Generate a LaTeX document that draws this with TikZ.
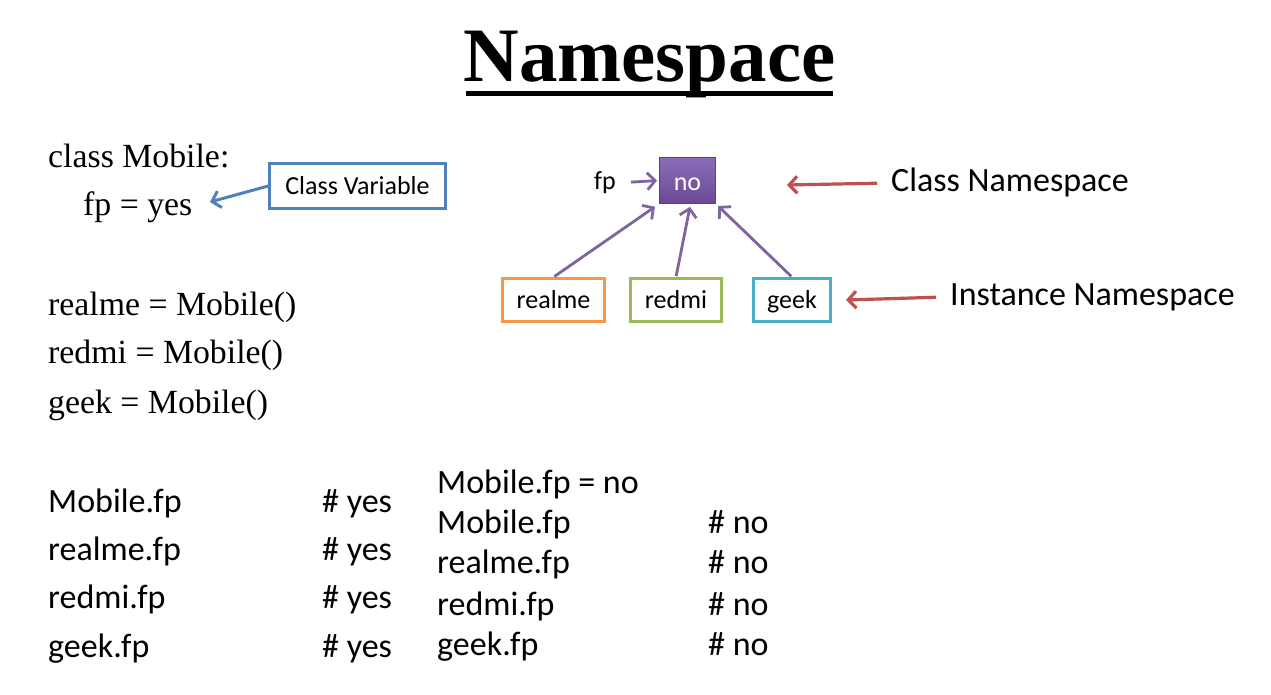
\documentclass[tikz,border=0pt]{standalone}
\usepackage{fontspec}
\setmainfont{Liberation Serif}
\newfontfamily\calfont{Carlito}
\usetikzlibrary{arrows.meta}
\definecolor{violetline}{HTML}{8064A2}
\definecolor{violettop}{HTML}{8D6DBA}
\definecolor{violetbot}{HTML}{6A4896}
\definecolor{violetedge}{HTML}{5C3F85}
\definecolor{orangeline}{HTML}{F79646}
\definecolor{greenline}{HTML}{9BBB59}
\definecolor{cyanline}{HTML}{4BACC6}
\definecolor{blueline}{HTML}{4F81BD}
\definecolor{redline}{HTML}{C0504D}
\begin{document}
\begin{tikzpicture}[x=1pt,y=-1pt,
  serif/.style={anchor=base west, inner sep=0pt, font=\fontsize{33.8}{33.8}\selectfont},
  code/.style={anchor=base west, inner sep=0pt, font=\calfont\fontsize{34}{34}\selectfont},
  label/.style={anchor=base west, inner sep=0pt, font=\calfont\fontsize{34}{34}\selectfont},
  small/.style={inner sep=0pt, font=\calfont\fontsize{26}{26}\selectfont},
  inst/.style={draw, line width=2.8pt, fill=white, minimum height=43pt, inner sep=0pt,
               text height=17pt, text depth=0pt,
               font=\calfont\fontsize{26}{26}\selectfont},
  link/.style={line width=2.8pt, -{Straight Barb[length=8pt,width=17pt]}},
]
\useasboundingbox[fill=white] (0,0) rectangle (1271,695);

% title
\node[anchor=base, inner sep=0pt, font=\bfseries\fontsize{77}{77}\selectfont] (title) at (649.5,82) {Namespace};
\fill (466,91) rectangle (833,96);

% class code
\node[serif] (cls) at (48,168) {class Mobile:};
\node[serif] (fpyes) at (83,215) {fp = yes};
\node[serif] (l1) at (48,315) {realme = Mobile()};
\node[serif] (l2) at (48,363) {redmi = Mobile()};
\node[serif] (l3) at (48,413) {geek = Mobile()};

% class variable box
\node[draw=blueline, line width=2.5pt, minimum width=176pt, minimum height=45pt, inner sep=0pt,
      text height=18pt, text depth=0pt,
      font=\calfont\fontsize{26}{26}\selectfont] (cv) at (357.5,186) {Class Variable};
\draw[link, blueline, line width=3pt, shorten >=18pt] (cv.west) -- (fpyes.east);

% left results
\node[code] (a1) at (48,512) {Mobile.fp};
\node[code] (a2) at (48,560) {realme.fp};
\node[code] (a3) at (48,608) {redmi.fp};
\node[code] (a4) at (48,657) {geek.fp};
\node[code] (b1) at (322,512) {\# yes};
\node[code] (b2) at (322,560) {\# yes};
\node[code] (b3) at (322,608) {\# yes};
\node[code] (b4) at (322,657) {\# yes};

% right results
\node[code] (c0) at (437,493) {Mobile.fp = no};
\node[code] (c1) at (437,533) {Mobile.fp};
\node[code] (c2) at (437,573) {realme.fp};
\node[code] (c3) at (437,615) {redmi.fp};
\node[code] (c4) at (437,655) {geek.fp};
\node[code] (d1) at (708,533) {\# no};
\node[code] (d2) at (708,573) {\# no};
\node[code] (d3) at (708,615) {\# no};
\node[code] (d4) at (708,655) {\# no};

% namespace diagram
\node[draw=violetedge, line width=0.8pt, top color=violettop, bottom color=violetbot,
      minimum width=56pt, minimum height=46pt, inner sep=0pt, text=white,
      text height=19pt, text depth=0pt,
      font=\calfont\fontsize{26}{26}\selectfont] (no) at (687.5,180.5) {no};
\node[small] (fp) at (605,183) {fp};
\draw[link, violetline, shorten <=15pt, shorten >=2pt] (fp.east) -- (no.west);

\node[inst, draw=orangeline, minimum width=102pt] (realme) at (553.5,300) {realme};
\node[inst, draw=greenline, minimum width=91pt] (redmi) at (676,300) {redmi};
\node[inst, draw=cyanline, minimum width=77pt] (geek) at (792,300) {geek};

\draw[link, violetline, shorten <=1pt, shorten >=5pt] (realme.north) -- (no.south west);
\draw[link, violetline, shorten <=1pt, shorten >=3pt] (redmi.north) -- ([xshift=3pt]no.south);
\draw[link, violetline, shorten <=1pt, shorten >=3pt] (geek.north) -- (no.south east);

% namespace labels
\node[label] (cns) at (891,192) {Class Namespace};
\node[label] (ins) at (950,305) {Instance Namespace};
\coordinate (cnstip) at (787,185);
\coordinate (instip) at (846,300);
\draw[link, redline, line width=3.2pt, shorten <=14pt] (cns.west) -- (cnstip);
\draw[link, redline, line width=3.2pt, shorten <=14pt] (ins.west) -- (instip);
\end{tikzpicture}
\end{document}
